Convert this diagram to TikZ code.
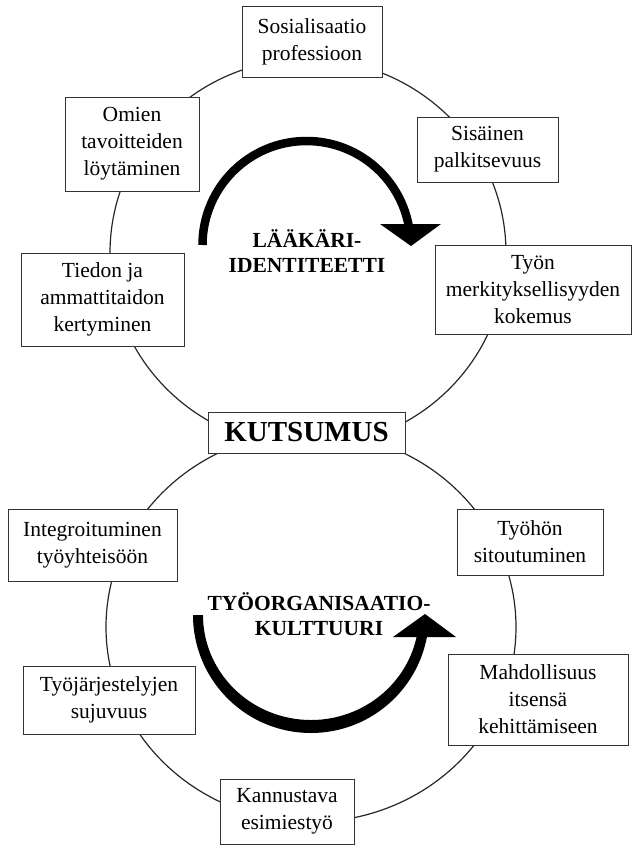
\documentclass[tikz,border=0pt]{standalone}
\usepackage{fontspec}
\setmainfont{Liberation Serif}
\begin{document}
\begin{tikzpicture}[x=1pt,y=1pt,
  ring/.style={draw=black!85, line width=1.2pt},
  topic/.style={draw=black!80, line width=1pt, fill=white, align=center,
    inner sep=0pt, font=\fontsize{21.5}{27}\selectfont},
  core/.style={draw=black!80, line width=1pt, fill=white, inner sep=0pt,
    font=\bfseries\fontsize{29}{32}\selectfont},
  cycletitle/.style={align=center, inner sep=0pt,
    font=\bfseries\fontsize{21.5}{24.5}\selectfont}]
\useasboundingbox (0,0) rectangle (632,-846);

% the two rings
\draw[ring] (308,-253) ellipse [x radius=198, y radius=194];
\draw[ring] (311,-627) ellipse [x radius=205, y radius=195];

% upper cycle arrow (clockwise)
\draw[line width=8.5pt] (202.5,-245) arc[start angle=180, end angle=11, radius=104];
\fill (380,-224) -- (441,-224) -- (411,-246) -- cycle;

% lower cycle arrow (counter-clockwise), tapered shaft
\fill (193,-615) arc[start angle=180, end angle=349.75, radius=118]
  -- (416.8,-636) arc[start angle=348.46, end angle=180, x radius=108, y radius=105]
  -- cycle;
\fill (393,-637) -- (456,-637) -- (425,-614) -- cycle;

% labels inside the rings
\node[cycletitle] (lid) at (307,-251) {LÄÄKÄRI-\\IDENTITEETTI};
\node[cycletitle] (tok) at (319,-614) {TYÖORGANISAATIO-\\KULTTUURI};

% centre
\node[core, minimum width=197pt, minimum height=41pt] (kut) at (306.5,-432.5) {KUTSUMUS};

% upper ring boxes
\node[topic, minimum width=140pt, minimum height=71pt] (soc) at (312,-41.5) {Sosialisaatio\\professioon};
\node[topic, minimum width=134pt, minimum height=94pt] (omi) at (132,-144) {Omien\\tavoitteiden\\löytäminen};
\node[topic, minimum width=141pt, minimum height=65pt] (sis) at (487.5,-149.5) {Sisäinen\\palkitsevuus};
\node[topic, minimum width=163pt, minimum height=93pt] (tie) at (102.5,-299.5) {Tiedon ja\\ammattitaidon\\kertyminen};
\node[topic, minimum width=196pt, minimum height=89pt] (mer) at (533,-289.5) {Työn\\merkityksellisyyden\\kokemus};

% lower ring boxes
\node[topic, minimum width=169pt, minimum height=72pt] (int) at (92.5,-545) {Integroituminen\\työyhteisöön};
\node[topic, minimum width=146pt, minimum height=66pt] (sit) at (530,-542) {Työhön\\sitoutuminen};
\node[topic, minimum width=172pt, minimum height=68pt] (jar) at (109,-700) {Työjärjestelyjen\\sujuvuus};
\node[topic, minimum width=180pt, minimum height=91pt] (mah) at (538,-699.5) {Mahdollisuus\\itsensä\\kehittämiseen};
\node[topic, minimum width=134pt, minimum height=65pt] (kan) at (287,-811.5) {Kannustava\\esimiestyö};
\end{tikzpicture}
\end{document}
